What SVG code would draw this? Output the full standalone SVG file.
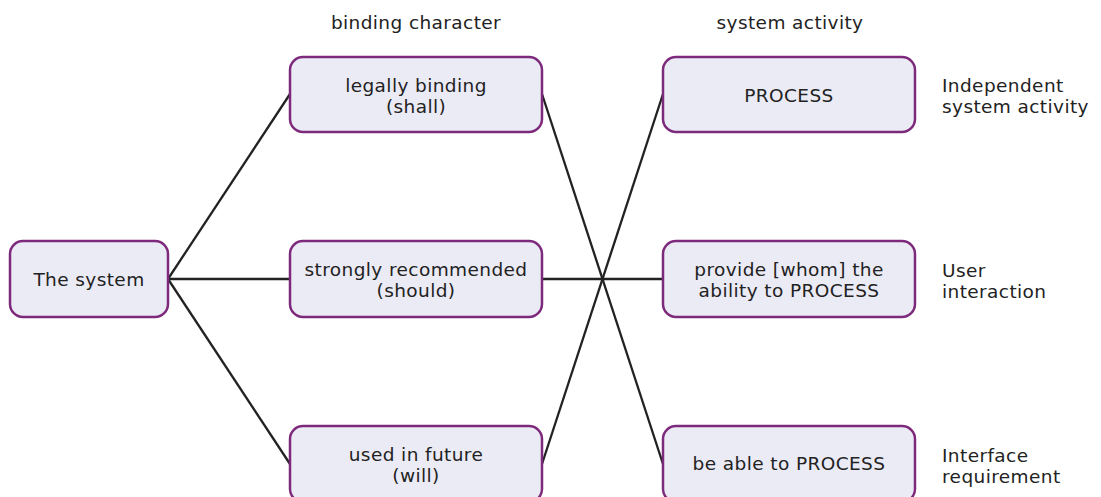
<svg xmlns="http://www.w3.org/2000/svg" width="1101" height="497" viewBox="0 0 1101 497">
<style>
.box{fill:#EBEBF5;stroke:#7E2A7C;stroke-width:2.5}
text{font-family:"DejaVu Sans",sans-serif;font-size:18.5px;letter-spacing:0.4px;fill:#222}
.c{text-anchor:middle}
.conn line{stroke:#222;stroke-width:2.3}
</style>
<rect width="1101" height="497" fill="#fff"/>
<text class="c" x="416" y="29">binding character</text>
<text class="c" x="790" y="29">system activity</text>
<g class="conn">
<line x1="168" y1="279" x2="290" y2="94"/>
<line x1="168" y1="279" x2="290" y2="279"/>
<line x1="168" y1="279" x2="290" y2="464"/>
<line x1="542" y1="94" x2="663" y2="464"/>
<line x1="542" y1="279" x2="663" y2="279"/>
<line x1="542" y1="464" x2="663" y2="94"/>
</g>
<g id="system"><rect class="box" x="10" y="241" width="158" height="76" rx="13"/><text class="c" x="89" y="286">The system</text></g>
<g id="shall"><rect class="box" x="290" y="57" width="252" height="75" rx="13"/><text class="c" x="416" y="92">legally binding</text><text class="c" x="416" y="113">(shall)</text></g>
<g id="should"><rect class="box" x="290" y="241" width="252" height="76" rx="13"/><text class="c" x="416" y="276">strongly recommended</text><text class="c" x="416" y="297">(should)</text></g>
<g id="will"><rect class="box" x="290" y="426" width="252" height="76" rx="13"/><text class="c" x="416" y="461">used in future</text><text class="c" x="416" y="482">(will)</text></g>
<g id="process"><rect class="box" x="663" y="57" width="252" height="75" rx="13"/><text class="c" x="789" y="102">PROCESS</text></g>
<g id="provide"><rect class="box" x="663" y="241" width="252" height="76" rx="13"/><text class="c" x="789" y="276">provide [whom] the</text><text class="c" x="789" y="297">ability to PROCESS</text></g>
<g id="able"><rect class="box" x="663" y="426" width="252" height="76" rx="13"/><text class="c" x="789" y="470">be able to PROCESS</text></g>
<g id="lbl1"><text x="942" y="92">Independent</text><text x="942" y="113">system activity</text></g>
<g id="lbl2"><text x="942" y="277">User</text><text x="942" y="298">interaction</text></g>
<g id="lbl3"><text x="942" y="462">Interface</text><text x="942" y="483">requirement</text></g>
</svg>
